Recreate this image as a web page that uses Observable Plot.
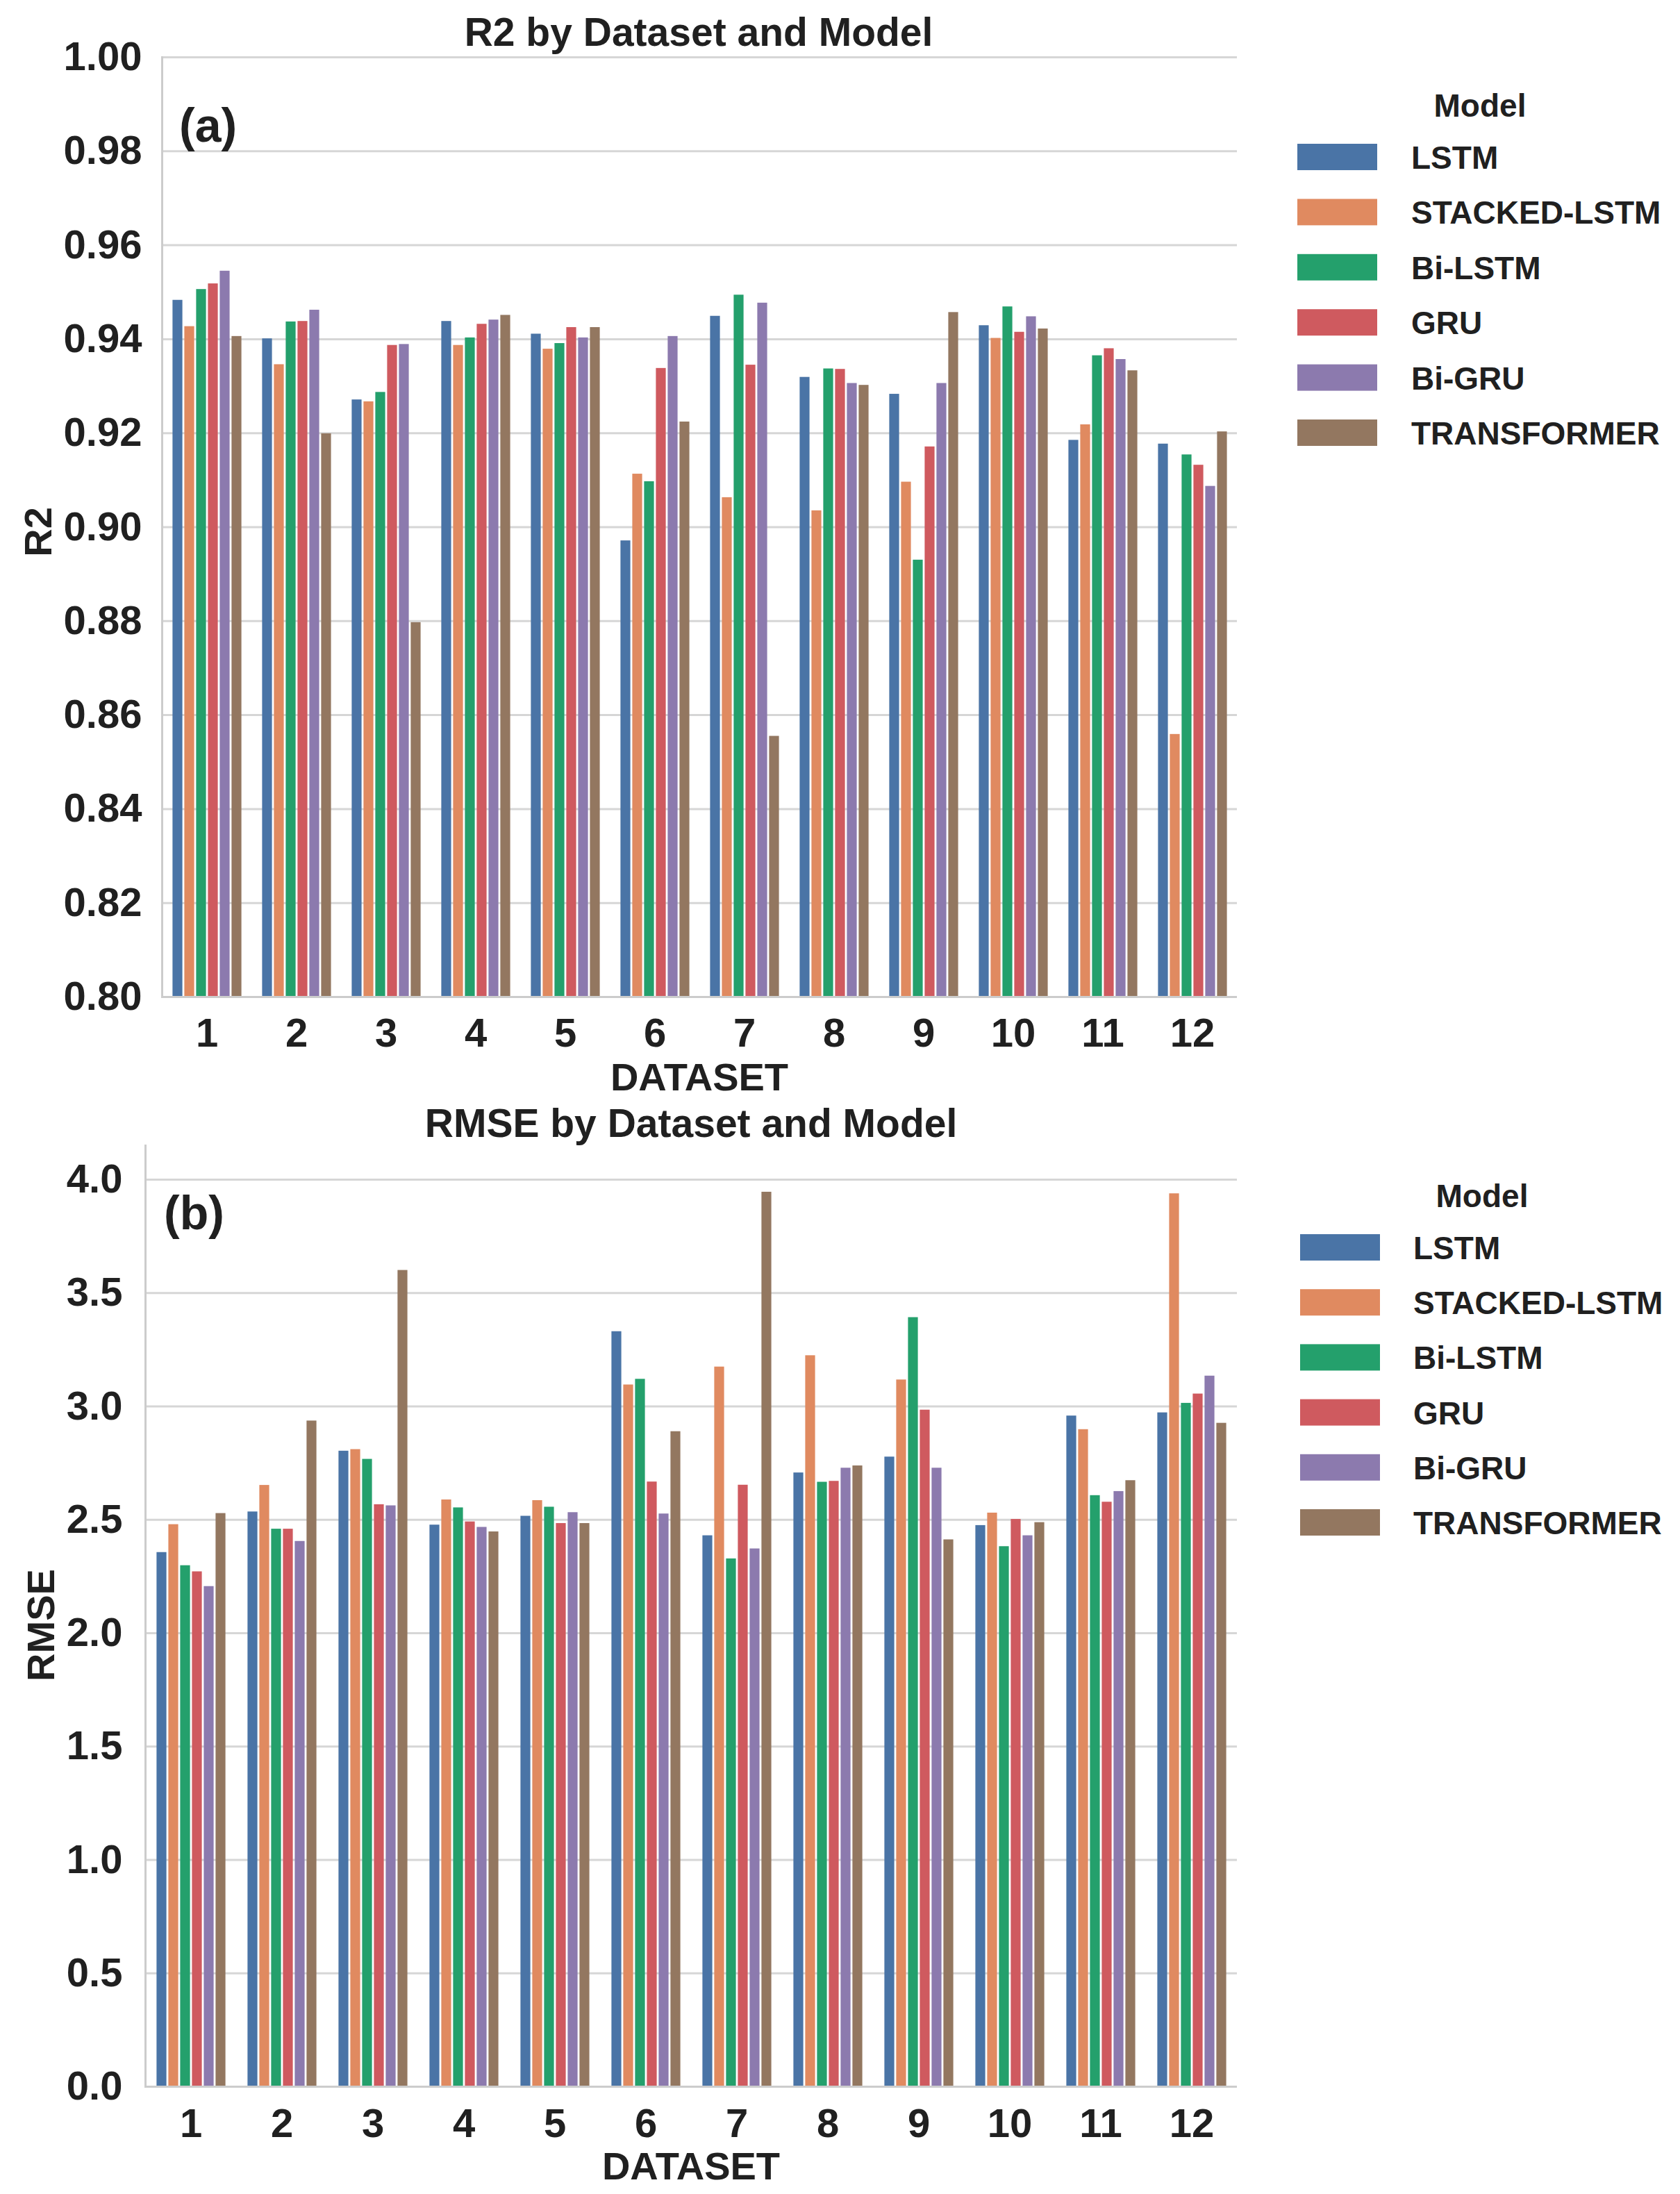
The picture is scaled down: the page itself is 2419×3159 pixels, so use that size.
<!DOCTYPE html>
<html>
<head>
<meta charset="utf-8">
<script src="https://cdn.jsdelivr.net/npm/d3@7"></script>
<script src="https://cdn.jsdelivr.net/npm/@observablehq/plot@0.6"></script>
<style>
  html, body { margin: 0; padding: 0; background: #fff; }
  body { width: 2419px; height: 3159px; position: relative; overflow: hidden;
         font-family: "Liberation Sans", Arial, Helvetica, sans-serif; font-weight: bold; color: #202020; }
  .chart { position: absolute; left: 0; }
  #overlay { position: absolute; left: 0; top: 0; pointer-events: none; }
</style>
</head>
<body>
<div id="top" class="chart" style="top:0px"></div>
<div id="bottom" class="chart" style="top:1600px"></div>
<svg id="overlay" width="2419" height="3159"></svg>
<script>
// ---------- data ----------
const DATASETS = ["1","2","3","4","5","6","7","8","9","10","11","12"];
const MODELS = ["LSTM", "STACKED-LSTM", "Bi-LSTM", "GRU", "Bi-GRU", "TRANSFORMER"];
const COLORS = ["#4a74a6", "#e08a60", "#24a06c", "#cf5a5f", "#8c7aae", "#937760"];

const R2_LSTM        = [0.9483, 0.9401, 0.9271, 0.9438, 0.9411, 0.8971, 0.9449, 0.9319, 0.9283, 0.9429, 0.9185, 0.9177];
const R2_STACKED     = [0.9427, 0.9346, 0.9267, 0.9387, 0.9379, 0.9113, 0.9063, 0.9035, 0.9096, 0.9402, 0.9218, 0.8559];
const R2_BILSTM      = [0.9506, 0.9437, 0.9287, 0.9403, 0.9391, 0.9097, 0.9494, 0.9337, 0.8930, 0.9469, 0.9365, 0.9154];
const R2_GRU         = [0.9518, 0.9438, 0.9387, 0.9432, 0.9425, 0.9338, 0.9345, 0.9336, 0.9171, 0.9415, 0.9380, 0.9132];
const R2_BIGRU       = [0.9545, 0.9462, 0.9389, 0.9441, 0.9403, 0.9406, 0.9477, 0.9306, 0.9306, 0.9448, 0.9357, 0.9087];
const R2_TRANSFORMER = [0.9406, 0.9199, 0.8797, 0.9451, 0.9425, 0.9224, 0.8555, 0.9302, 0.9457, 0.9422, 0.9333, 0.9203];

const RMSE_LSTM        = [2.356, 2.535, 2.803, 2.477, 2.516, 3.330, 2.430, 2.707, 2.777, 2.475, 2.958, 2.972];
const RMSE_STACKED     = [2.479, 2.652, 2.810, 2.588, 2.585, 3.095, 3.174, 3.224, 3.117, 2.530, 2.898, 3.938];
const RMSE_BILSTM      = [2.298, 2.459, 2.767, 2.553, 2.556, 3.120, 2.328, 2.666, 3.392, 2.382, 2.607, 3.014];
const RMSE_GRU         = [2.271, 2.459, 2.567, 2.491, 2.484, 2.667, 2.653, 2.670, 2.984, 2.502, 2.578, 3.055];
const RMSE_BIGRU       = [2.206, 2.405, 2.562, 2.467, 2.532, 2.526, 2.372, 2.728, 2.728, 2.430, 2.625, 3.134];
const RMSE_TRANSFORMER = [2.528, 2.936, 3.600, 2.447, 2.484, 2.889, 3.945, 2.738, 2.412, 2.488, 2.673, 2.926];

const R2_TICKS   = [0.80, 0.82, 0.84, 0.86, 0.88, 0.90, 0.92, 0.94, 0.96, 0.98, 1.00];
const RMSE_TICKS = [0.0, 0.5, 1.0, 1.5, 2.0, 2.5, 3.0, 3.5, 4.0];

const R2_SERIES   = [R2_LSTM, R2_STACKED, R2_BILSTM, R2_GRU, R2_BIGRU, R2_TRANSFORMER];
const RMSE_SERIES = [RMSE_LSTM, RMSE_STACKED, RMSE_BILSTM, RMSE_GRU, RMSE_BIGRU, RMSE_TRANSFORMER];

const FONT = "'Liberation Sans', Arial, Helvetica, sans-serif";
const INK = "#202020";
const GRID = "#d6d6d6";

function toRows(series) {
  const rows = [];
  MODELS.forEach((m, j) => series[j].forEach((v, i) => rows.push({dataset: DATASETS[i], model: m, value: v})));
  return rows;
}

function makeChart({series, yDomain, ticks, fmt, height, marginLeft, marginRight, marginTop, marginBottom, tickPad, fxPad}) {
  const rows = toRows(series);
  return Plot.plot({
    width: 1830, height, marginLeft, marginRight, marginTop, marginBottom,
    style: {fontFamily: FONT, fontWeight: "bold", color: INK, background: "transparent", overflow: "visible"},
    fx: {domain: DATASETS, padding: 0, label: null},
    x: {domain: MODELS, paddingInner: 0, paddingOuter: 0.75, axis: null},
    y: {domain: yDomain, label: null},
    color: {domain: MODELS, range: COLORS},
    marks: [
      Plot.gridY(ticks, {stroke: GRID, strokeOpacity: 1, strokeWidth: 3}),
      Plot.barY(rows, {fx: "dataset", x: "model", y: "value", fill: "model", insetLeft: 1.4, insetRight: 1.4, clip: true}),
      Plot.ruleY([yDomain[0]], {stroke: "#cccccc", strokeWidth: 3}),
      Plot.frame({anchor: "left", facetAnchor: "left", stroke: "#cccccc", strokeWidth: 3}),
      Plot.axisY(ticks, {tickSize: 0, tickPadding: tickPad, tickFormat: fmt, fontSize: 58, fontWeight: "bold", label: null}),
      Plot.axisFx({anchor: "bottom", tickSize: 0, tickPadding: fxPad, fontSize: 58, fontWeight: "bold", label: null})
    ]
  });
}

document.getElementById("top").append(makeChart({
  series: R2_SERIES, yDomain: [0.80, 1.00], ticks: R2_TICKS, fmt: d3.format(".2f"),
  height: 1590, marginLeft: 232, marginRight: 49, marginTop: 82, marginBottom: 155, tickPad: 29, fxPad: 30
}));

document.getElementById("bottom").append(makeChart({
  series: RMSE_SERIES, yDomain: [0, 4.15], ticks: RMSE_TICKS, fmt: d3.format(".1f"),
  height: 1559, marginLeft: 205, marginRight: 45, marginTop: 49, marginBottom: 155, tickPad: 33, fxPad: 31
}));

// ---------- titles, labels, legends ----------
const svg = d3.select("#overlay").attr("font-family", FONT).attr("font-weight", "bold").attr("fill", INK);

function txt(x, y, s, size, anchor = "middle", rotate = false) {
  const t = svg.append("text").text(s).attr("font-size", size).attr("text-anchor", anchor);
  if (rotate) t.attr("transform", `translate(${x},${y}) rotate(-90)`);
  else t.attr("x", x).attr("y", y);
}

// panel (a)
txt(1006, 66, "R2 by Dataset and Model", 57);
txt(258, 204, "(a)", 68, "start");
txt(74, 766, "R2", 56, "middle", true);
txt(1007, 1570, "DATASET", 56);

// panel (b)
txt(995, 1637, "RMSE by Dataset and Model", 57);
txt(236, 1770, "(b)", 68, "start");
txt(78, 2340, "RMSE", 56, "middle", true);
txt(995, 3138, "DATASET", 56);

function legend(titleX, titleY, swX, labelX, firstY, step) {
  txt(titleX, titleY, "Model", 46);
  MODELS.forEach((m, k) => {
    const cy = firstY + k * step;
    svg.append("rect").attr("x", swX).attr("y", cy - 19).attr("width", 115).attr("height", 38).attr("fill", COLORS[k]);
    txt(labelX, cy + 17, m, 46, "start");
  });
}
legend(2131, 168, 1868, 2032, 226, 79.4);
legend(2134, 1738, 1872, 2035, 1796, 79.2);
</script>
</body>
</html>
